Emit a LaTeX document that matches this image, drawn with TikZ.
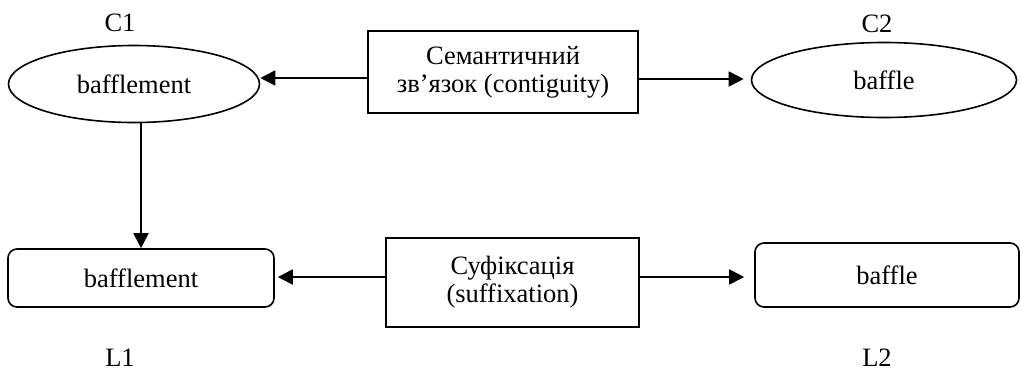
\documentclass[tikz,border=0pt]{standalone}
\usepackage{fontspec}
\setmainfont{Liberation Serif}
\usetikzlibrary{arrows.meta,shapes.geometric}
\begin{document}
\begin{tikzpicture}[x=1pt,y=-1pt,
  every node/.style={font=\fontsize{26.5}{28}\selectfont},
  ell/.style={draw,ellipse,line width=1.6pt,inner sep=0pt},
  relbox/.style={draw,rectangle,line width=1.6pt,inner sep=0pt,align=center},
  wordbox/.style={draw,rectangle,rounded corners=9pt,line width=1.6pt,inner sep=0pt},
  lbl/.style={inner sep=0pt},
  arr/.style={-{Triangle[length=15pt,width=15pt]},line width=1.8pt}]
\useasboundingbox (0,0) rectangle (1020,373);
\node[ell,minimum width=251pt,minimum height=77pt] (c1) at (134,84) {bafflement};
\node[ell,minimum width=265pt,minimum height=75pt] (c2) at (884,80) {baffle};
\node[relbox,minimum width=270pt,minimum height=82pt] (sem) at (503,72) {Семантичний\\зв’язок (contiguity)};
\node[relbox,minimum width=253pt,minimum height=89pt] (suf) at (512.5,282.5) {Суфіксація\\(suffixation)};
\node[wordbox,minimum width=266pt,minimum height=58pt] (l1) at (141,278) {bafflement};
\node[wordbox,minimum width=264pt,minimum height=64pt] (l2) at (887,275) {baffle};
\node[lbl] (c1l) at (120,23) {C1};
\node[lbl] (c2l) at (877,24) {C2};
\node[lbl] (l1l) at (120,358) {L1};
\node[lbl] (l2l) at (877,358) {L2};
\draw[arr] ([yshift=-6pt]sem.west) -- ([yshift=-6pt]sem.west -| c1.east);
\draw[arr,shorten >=7pt] ([yshift=-7pt]sem.east) -- ([yshift=-7pt]sem.east -| c2.west);
\draw[arr] (l1.north |- c1.south) -- (l1.north);
\draw[arr,shorten >=3pt] ([yshift=5.5pt]suf.west) -- ([yshift=5.5pt]suf.west -| l1.east);
\draw[arr,shorten >=10pt] ([yshift=5.5pt]suf.east) -- ([yshift=5.5pt]suf.east -| l2.west);
\end{tikzpicture}
\end{document}
